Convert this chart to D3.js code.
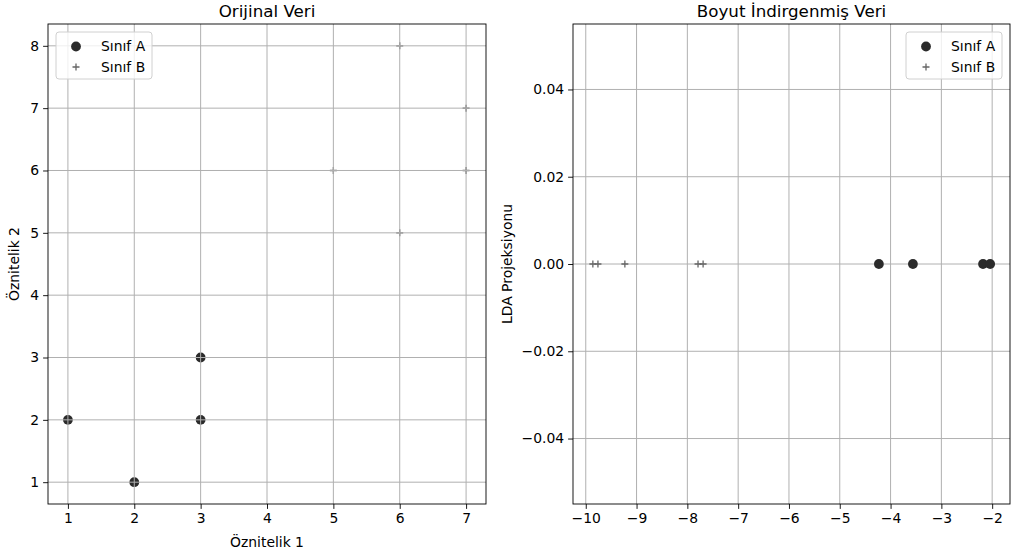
<!DOCTYPE html>
<html><head><meta charset="utf-8">
<script src="https://cdn.jsdelivr.net/npm/d3@7"></script>
<style>body{margin:0;background:#fff}svg{font-family:"DejaVu Sans",sans-serif}</style>
</head><body>
<svg id="c" width="1017" height="556"></svg>
<script>
const classA_x = [1, 2, 3, 3];
const classA_y = [2, 1, 2, 3];
const classB_x = [6, 7, 7, 5, 6];
const classB_y = [8, 7, 6, 6, 5];
const ldaA = [-4.23, -3.56, -2.18, -2.04];
const ldaB = [-9.86, -9.76, -9.23, -7.79, -7.69];
const leftXTicks = [1, 2, 3, 4, 5, 6, 7];
const leftYTicks = [1, 2, 3, 4, 5, 6, 7, 8];
const rightXTicks = [-10, -9, -8, -7, -6, -5, -4, -3, -2];
const rightYTicks = [-0.04, -0.02, 0.0, 0.02, 0.04];
const titles = ["Orijinal Veri", "Boyut İndirgenmiş Veri"];
const legendLabels = ["Sınıf A", "Sınıf B"];

const svg = d3.select("#c");
const fs = 13.9;
const colA = "#2b2b2b", colB = "#666";

function pad(ext){const r=ext[1]-ext[0]||0.1;return [ext[0]-0.05*r, ext[1]+0.05*r];}

function panel(o){
  const g = svg.append("g");
  const {L,R,T,B} = o;
  const x = d3.scaleLinear().domain(o.xd).range([L,R]);
  const y = d3.scaleLinear().domain(o.yd).range([B,T]);
  const gridG = g.append("g");
  function drawGrid(parent){
    parent.selectAll(".gx").data(o.xt).join("line").attr("x1",d=>x(d)).attr("x2",d=>x(d)).attr("y1",T).attr("y2",B)
      .attr("stroke","#b0b0b0").attr("stroke-width",1);
    parent.selectAll(".gy").data(o.yt).join("line").attr("y1",d=>y(d)).attr("y2",d=>y(d)).attr("x1",L).attr("x2",R)
      .attr("stroke","#b0b0b0").attr("stroke-width",1);
  }
  const pts = g.append("g");
  const ptsA = o.ax.map((v,i)=>({x:v,y:o.ay[i]}));
  const ptsB = o.bx.map((v,i)=>({x:v,y:o.by[i]}));
  pts.selectAll("circle").data(ptsA).join("circle").attr("cx",d=>x(d.x)).attr("cy",d=>y(d.y)).attr("r",4.9).attr("fill",colA);
  pts.selectAll("path").data(ptsB).join("path").attr("d",d=>`M${x(d.x)-3.5},${y(d.y)}h7M${x(d.x)},${y(d.y)-3.5}v7`)
    .attr("stroke",colB).attr("stroke-width",1.3).attr("fill","none");
  if(o.gridAbove){ drawGrid(g.append("g")); } else { drawGrid(gridG); }
  // axes
  const xa = g.append("g").attr("transform",`translate(0,${B})`).call(d3.axisBottom(x).tickValues(o.xt).tickSize(4.9).tickPadding(4).tickFormat(o.xf));
  const ya = g.append("g").attr("transform",`translate(${L},0)`).call(d3.axisLeft(y).tickValues(o.yt).tickSize(4.9).tickPadding(4).tickFormat(o.yf));
  [xa,ya].forEach(a=>{a.select(".domain").remove();a.selectAll("text").attr("font-size",fs).attr("fill","#000").attr("font-family","DejaVu Sans");a.selectAll("line").attr("stroke","#000").attr("stroke-width",0.9);});
  g.append("rect").attr("x",L).attr("y",T).attr("width",R-L).attr("height",B-T).attr("fill","none").attr("stroke","#000").attr("stroke-width",0.9);
  g.append("text").attr("x",(L+R)/2).attr("y",T-7).attr("text-anchor","middle").attr("font-size",16.7).text(o.title);
  if(o.xl) g.append("text").attr("x",(L+R)/2).attr("y",B+43).attr("text-anchor","middle").attr("font-size",fs).text(o.xl);
  if(o.yl) g.append("text").attr("transform",`translate(${o.ylx},${(T+B)/2}) rotate(-90)`).attr("text-anchor","middle").attr("font-size",fs).text(o.yl);
  // legend
  const lg = g.append("g").attr("transform",`translate(${o.lx},${T+8})`);
  lg.append("rect").attr("width",96).attr("height",47).attr("rx",3).attr("fill","#fff").attr("fill-opacity",0.8).attr("stroke","#d0d0d0").attr("stroke-width",1);
  lg.append("circle").attr("cx",20).attr("cy",14.5).attr("r",4.9).attr("fill",colA);
  lg.append("path").attr("d",`M16.5,35h7M20,31.5v7`).attr("stroke",colB).attr("stroke-width",1.3);
  lg.selectAll("text").data(legendLabels).join("text").attr("x",45).attr("y",(d,i)=>14.5+i*20.5).attr("dy","0.35em").attr("font-size",fs).text(d=>d);
}

panel({L:48,R:486,T:24,B:504,
  xd:pad([1,7]), yd:pad([1,8]), xt:leftXTicks, yt:leftYTicks,
  xf:d3.format("d"), yf:d3.format("d"),
  ax:classA_x, ay:classA_y, bx:classB_x, by:classB_y,
  title:titles[0], xl:"Öznitelik 1", yl:"Öznitelik 2", ylx:19, lx:56, gridAbove:true});

const allL = ldaA.concat(ldaB);
panel({L:573,R:1010,T:24,B:504,
  xd:pad(d3.extent(allL)), yd:[-0.055,0.055], xt:rightXTicks, yt:rightYTicks,
  xf:d=>d3.format("d")(d).replace("-","−"), yf:d=>d3.format(".2f")(d).replace("-","−"),
  ax:ldaA, ay:ldaA.map(()=>0), bx:ldaB, by:ldaB.map(()=>0),
  title:titles[1], xl:null, yl:"LDA Projeksiyonu", ylx:512, lx:906, gridAbove:false});
</script>
</body></html>
